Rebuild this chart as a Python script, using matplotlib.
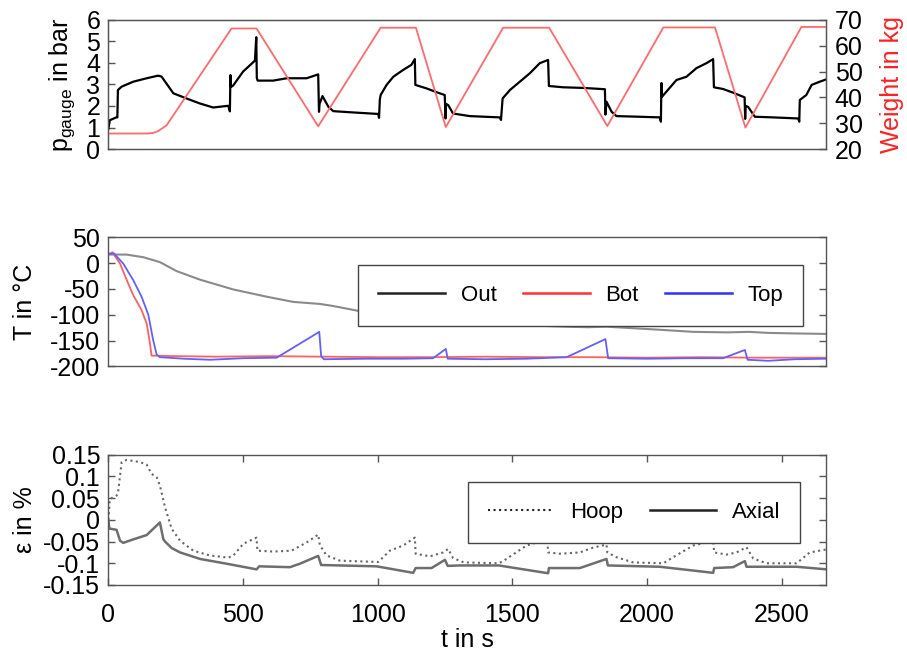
import matplotlib
matplotlib.use("Agg")
import matplotlib.pyplot as plt
from matplotlib.lines import Line2D
from matplotlib.ticker import FixedLocator, FixedFormatter

plt.rcParams['font.family'] = ['Liberation Sans', 'DejaVu Sans']
plt.rcParams['mathtext.fontset'] = 'custom'
plt.rcParams['mathtext.rm'] = 'Liberation Sans'
plt.rcParams['axes.unicode_minus'] = False

# --- pressure (bar) and weight (kg) ---
p_t = [0, 5, 29, 33, 35, 49, 92, 142, 184, 197, 241, 290, 339, 389, 445, 451,
       453, 455, 457, 463, 500, 544, 549, 551, 554, 560, 612, 662, 736, 779,
       782, 784, 795, 817, 835, 909, 1002, 1005, 1008, 1011, 1033, 1058, 1095,
       1125, 1138, 1140, 1181, 1219, 1249, 1252, 1254, 1262, 1280, 1342, 1454,
       1458, 1464, 1491, 1528, 1565, 1602, 1633, 1636, 1689, 1764, 1844, 1846,
       1850, 1869, 1887, 1973, 2048, 2052, 2054, 2056, 2072, 2110, 2147, 2184,
       2221, 2246, 2249, 2283, 2320, 2363, 2365, 2367, 2376, 2401, 2469, 2562,
       2566, 2568, 2592, 2612, 2642, 2667]
p_bar = [0.95, 1.34, 1.47, 1.47, 2.74, 2.9, 3.13, 3.29, 3.41, 3.37, 2.59, 2.35,
         2.12, 1.93, 2.01, 1.75, 3.44, 2.9, 2.9, 2.95, 3.6, 4.11, 5.2, 3.3, 3.18,
         3.18, 3.18, 3.29, 3.29, 3.47, 1.73, 2.1, 2.46, 1.96, 1.76, 1.70, 1.63,
         1.45, 2.3, 2.51, 2.98, 3.36, 3.68, 3.91, 4.18, 2.98, 2.82, 2.64, 2.51,
         1.42, 2.1, 2.04, 1.65, 1.53, 1.47, 1.35, 2.35, 2.74, 3.13, 3.52, 3.99,
         4.14, 2.93, 2.87, 2.84, 2.78, 1.6, 2.2, 1.73, 1.53, 1.50, 1.47, 1.27,
         3.07, 2.43, 2.66, 3.21, 3.36, 3.76, 3.99, 4.18, 2.87, 2.79, 2.62, 2.40,
         1.4, 2.0, 1.96, 1.50, 1.47, 1.42, 1.27, 2.28, 2.51, 2.98, 3.13, 3.24]

w_t = [0, 142, 165, 184, 216, 457, 550, 779, 1011, 1142, 1253, 1466, 1637,
       1853, 2061, 2253, 2366, 2574, 2667]
w_kg = [26.0, 26.0, 26.2, 26.9, 29.2, 66.7, 66.7, 28.8, 67.0, 67.0, 28.5, 67.0,
        67.0, 28.9, 67.1, 67.1, 28.3, 67.3, 67.3]

# --- temperatures (degC) ---
out_t = [0, 68, 129, 191, 253, 340, 464, 588, 686, 786, 835, 934, 1000, 1100,
         1200, 1300, 1400, 1500, 1615, 1700, 1780, 1850, 1950, 2050, 2172, 2300,
         2380, 2450, 2543, 2667]
out_c = [16.7, 16.5, 11.5, 2, -15.4, -32, -51, -65, -75, -79, -83, -93, -100,
         -108, -113, -117, -119, -120, -121.5, -123, -124, -123, -126, -129,
         -133, -134, -133, -135, -136, -137]

bot_t = [0, 15, 43, 68, 92, 123, 142, 154, 160, 250, 400, 600, 800, 1000, 1200,
         1400, 1600, 1800, 2000, 2200, 2400, 2667]
bot_c = [17, 21, -1, -33, -62, -91, -117, -155, -179, -180, -181, -180, -181,
         -182, -182, -181, -182, -182, -183, -182, -183, -183]

top_t = [0, 20, 55, 92, 123, 148, 166, 179, 191, 280, 377, 500, 625, 783, 790,
         800, 950, 1100, 1206, 1253, 1260, 1400, 1550, 1702, 1846, 1856, 2000,
         2150, 2283, 2364, 2374, 2450, 2550, 2667]
top_c = [18, 19, -1, -33, -65, -100, -149, -177, -182, -185, -187, -184, -183,
         -133, -180, -186, -185, -185, -184, -166, -185, -186, -185, -182, -147,
         -184, -185, -184, -184, -168, -187, -189, -186, -185]

# --- strain (%) ---
hoop_t = [0, 5, 30, 35, 49, 68, 117, 142, 160, 179, 191, 210, 235, 266, 315,
          377, 445, 464, 501, 550, 553, 612, 680, 736, 779, 785, 810, 860, 1002,
          1045, 1095, 1138, 1141, 1194, 1243, 1262, 1280, 1320, 1450, 1466, 1553,
          1630, 1633, 1677, 1751, 1800, 1850, 1853, 1887, 1949, 2061, 2098,
          2172, 2246, 2250, 2296, 2333, 2370, 2395, 2444, 2556, 2605, 2667]
hoop_pct = [0.0, 0.048, 0.056, 0.06, 0.133, 0.138, 0.133, 0.127, 0.106, 0.098,
            0.079, 0.029, -0.021, -0.048, -0.071, -0.082, -0.087, -0.082,
            -0.055, -0.041, -0.071, -0.073, -0.071, -0.052, -0.034, -0.058,
            -0.082, -0.094, -0.097, -0.071, -0.059, -0.041, -0.078, -0.084,
            -0.075, -0.067, -0.088, -0.098, -0.1, -0.095, -0.059, -0.045,
            -0.075, -0.078, -0.075, -0.064, -0.057, -0.075, -0.086, -0.098,
            -0.1, -0.086, -0.059, -0.049, -0.075, -0.08, -0.075, -0.063, -0.089,
            -0.1, -0.1, -0.075, -0.068]

axial_t = [0, 3, 30, 43, 55, 92, 142, 191, 204, 210, 235, 266, 340, 439, 550,
           560, 674, 711, 779, 790, 996, 1132, 1141, 1200, 1250, 1260, 1305, 1450,
           1603, 1633, 1636, 1751, 1850, 1855, 2048, 2246, 2250, 2320, 2364,
           2370, 2556, 2667]
axial_pct = [-0.002, -0.02, -0.023, -0.048, -0.053, -0.045, -0.035, -0.006,
             -0.045, -0.05, -0.065, -0.075, -0.09, -0.101, -0.114, -0.107,
             -0.109, -0.101, -0.083, -0.104, -0.107, -0.122, -0.111, -0.111,
             -0.092, -0.106, -0.105, -0.105, -0.12, -0.123, -0.111, -0.111,
             -0.09, -0.105, -0.108, -0.122, -0.111, -0.109, -0.095, -0.108,
             -0.108, -0.114]

eps_ticks = [-0.15, -0.1, -0.05, 0, 0.05, 0.1, 0.15]
eps_labels = ['-0.15', '-0.1', '-0.05', '0', '0.05', '0.1', '0.15']

FS = 18
FRAME = '#555555'

fig = plt.figure(figsize=(9.07, 6.57), dpi=100)
L, W = 0.1196, 0.7916
ax1 = fig.add_axes([L, 0.7732, W, 0.1964])
ax2 = fig.add_axes([L, 0.4422, W, 0.1966])
ax3 = fig.add_axes([L, 0.1096, W, 0.1983])


def style(ax):
    for s in ax.spines.values():
        s.set_color(FRAME)
        s.set_linewidth(1.0)
    ax.tick_params(direction='in', length=5, width=1, color=FRAME,
                   labelsize=FS, pad=6)
    ax.set_xlim(0, 2667)


for ax in (ax1, ax2, ax3):
    style(ax)

# top panel
ax1.plot(p_t, p_bar, color='black', lw=1.6)
ax1.set_ylim(0, 6)
ax1.set_yticks(range(0, 7))
ax1.set_xticks([])
ax1.set_ylabel(r'$\mathrm{p}_{\mathrm{gauge}}$ in bar', fontsize=FS)
ax1.yaxis.set_label_coords(-0.044, 0.5)
ax1r = ax1.twinx()
ax1r.plot(w_t, w_kg, color='#ff6a6a', lw=1.3)
ax1r.set_ylim(20, 70)
ax1r.set_yticks(range(20, 71, 10))
ax1r.set_xlim(0, 2667)
ax1r.tick_params(direction='in', length=5, width=1, color=FRAME,
                 labelsize=FS, pad=6)
for s in ax1r.spines.values():
    s.set_color(FRAME)
ax1r.set_ylabel('Weight in kg', color='#ff2020', fontsize=FS)
ax1r.yaxis.set_label_coords(1.074, 0.5)

# middle panel
ax2.plot(out_t, out_c, color='#8a8a8a', lw=1.5)
ax2.plot(bot_t, bot_c, color='#ff6060', lw=1.3)
ax2.plot(top_t, top_c, color='#6060ff', lw=1.3)
ax2.set_ylim(-200, 50)
ax2.set_yticks(range(-200, 51, 50))
ax2.set_xticks([])
ax2.tick_params(right=True)
ax2.set_ylabel('T in °C', fontsize=FS)
ax2.yaxis.set_label_coords(-0.1, 0.5)
h2 = [Line2D([], [], color='#222222', lw=1.8),
      Line2D([], [], color='#ff3030', lw=1.8),
      Line2D([], [], color='#3030ff', lw=1.8)]
lg2 = ax2.legend(h2, ['Out', 'Bot', 'Top'], ncol=3, loc='center',
                 bbox_to_anchor=(0.658, 0.553), fontsize=16, frameon=True,
                 fancybox=False, framealpha=1, edgecolor='#444444',
                 handlelength=3.0, handletextpad=0.7, columnspacing=1.2,
                 borderpad=0.9, borderaxespad=0)
lg2.get_frame().set_linewidth(1.0)

# bottom panel
ax3.plot(hoop_t, hoop_pct, color='#666666', lw=1.5, ls=':')
ax3.plot(axial_t, axial_pct, color='#6e6e6e', lw=1.8)
ax3.set_ylim(-0.15, 0.15)
ax3.yaxis.set_major_locator(FixedLocator(eps_ticks))
ax3.yaxis.set_major_formatter(FixedFormatter(eps_labels))
ax3.set_xticks(range(0, 2501, 500))
ax3.tick_params(top=True, right=True)
ax3.tick_params(axis='x', pad=13)
ax3.set_ylabel('ε in %', fontsize=FS)
ax3.yaxis.set_label_coords(-0.1, 0.5)
ax3.set_xlabel('t in s', fontsize=FS, labelpad=1)
h3 = [Line2D([], [], color='#222222', lw=1.5, ls=':'),
      Line2D([], [], color='#222222', lw=1.8)]
lg3 = ax3.legend(h3, ['Hoop', 'Axial'], ncol=2, loc='center',
                 bbox_to_anchor=(0.732, 0.556), fontsize=16, frameon=True,
                 fancybox=False, framealpha=1, edgecolor='#444444',
                 handlelength=3.0, handletextpad=0.7, columnspacing=1.2,
                 borderpad=0.9, borderaxespad=0)
lg3.get_frame().set_linewidth(1.0)

fig.savefig('out.png', dpi=100)
